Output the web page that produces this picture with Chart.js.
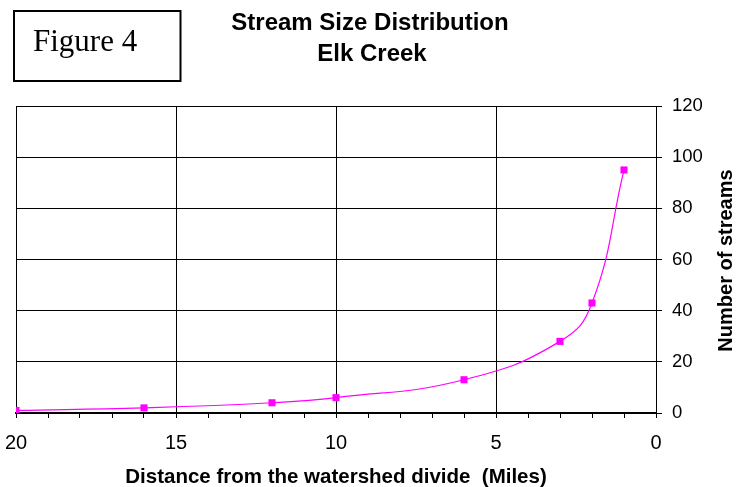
<!DOCTYPE html>
<html>
<head>
<meta charset="utf-8">
<script src="https://cdn.jsdelivr.net/npm/chart.js@4/dist/chart.umd.min.js"></script>
<style>
  html, body { margin: 0; padding: 0; background: #fff; }
  #wrap { width: 749px; height: 487px; position: relative; }
</style>
</head>
<body>
<div id="wrap"><canvas id="c" width="749" height="487"></canvas></div>
<script>
// ---- data ----
const distanceMiles = [20, 16, 12, 10, 6, 3, 2, 1];
const streamCounts  = [1, 2, 4, 6, 13, 28, 43, 95];
const titleLines = ['Stream Size Distribution', 'Elk Creek'];
const figureLabel = 'Figure 4';
const xAxisTitle = 'Distance from the watershed divide  (Miles)';
const yAxisTitle = 'Number of streams';

const SANS = '"Liberation Sans", Arial, sans-serif';
const SERIF = '"Liberation Serif", "Times New Roman", serif';

const decorPlugin = {
  id: 'decor',
  afterDraw(chart) {
    const ctx = chart.ctx;
    ctx.save();
    // Figure box
    ctx.strokeStyle = '#000';
    ctx.lineWidth = 2;
    ctx.strokeRect(14, 11, 166.5, 70);
    ctx.fillStyle = '#000';
    ctx.font = '31px ' + SERIF;
    ctx.textAlign = 'left';
    ctx.textBaseline = 'alphabetic';
    ctx.fillText(figureLabel, 33, 51);
    // Chart title
    ctx.font = 'bold 24px ' + SANS;
    ctx.textAlign = 'center';
    ctx.fillText(titleLines[0], 370, 30);
    ctx.fillText(titleLines[1], 372, 61);
    // Y axis title (reads bottom to top)
    const ca = chart.chartArea;
    ctx.translate(732, (ca.top + ca.bottom) / 2 + 1);
    ctx.rotate(-Math.PI / 2);
    ctx.font = 'bold 20px ' + SANS;
    ctx.textAlign = 'center';
    ctx.textBaseline = 'alphabetic';
    ctx.fillText(yAxisTitle, 0, 0);
    ctx.restore();
  }
};

const points = distanceMiles.map((d, i) => ({ x: d, y: streamCounts[i] }));

new Chart(document.getElementById('c'), {
  type: 'line',
  data: {
    datasets: [{
      data: points,
      borderColor: '#FF00FF',
      backgroundColor: '#FF00FF',
      borderWidth: 1.2,
      pointStyle: 'rect',
      pointRadius: 5,
      pointBorderWidth: 0,
      pointBackgroundColor: '#FF00FF',
      tension: 0.45,
      fill: false
    }]
  },
  options: {
    responsive: false,
    animation: false,
    devicePixelRatio: 1,
    layout: { padding: { left: 16, top: 106, right: 0, bottom: 0 } },
    plugins: {
      legend: { display: false },
      tooltip: { enabled: false },
      title: { display: false }
    },
    scales: {
      x: {
        type: 'linear',
        position: 'bottom',
        reverse: true,
        min: 0,
        max: 20,
        afterFit: (s) => { s.height = 74; s.paddingLeft = 0; s.paddingRight = 0; },
        ticks: {
          stepSize: 1,
          autoSkip: false,
          maxRotation: 0,
          padding: 13,
          color: '#000',
          font: { family: SANS, size: 20 },
          callback: (v) => (v % 5 === 0 ? String(v) : '')
        },
        grid: {
          color: (c) => (c.tick && c.tick.value % 5 === 0 ? '#000' : 'rgba(0,0,0,0)'),
          tickColor: '#000',
          tickLength: 5,
          lineWidth: 1
        },
        border: { color: '#000', width: 2 },
        title: {
          display: true,
          text: xAxisTitle,
          color: '#000',
          font: { family: SANS, size: 20.5, weight: 'bold', lineHeight: 1 },
          padding: { top: 0, bottom: -1 }
        }
      },
      y: {
        type: 'linear',
        position: 'right',
        min: 0,
        max: 120,
        afterFit: (s) => { s.width = 93; s.paddingTop = 0; s.paddingBottom = 0; },
        ticks: {
          stepSize: 20,
          padding: 10,
          color: '#000',
          font: { family: SANS, size: 18.5 }
        },
        grid: {
          color: '#000',
          tickColor: '#000',
          tickLength: 6,
          lineWidth: 1
        },
        border: { color: '#000', width: 1 }
      }
    }
  },
  plugins: [decorPlugin]
});
</script>
</body>
</html>
